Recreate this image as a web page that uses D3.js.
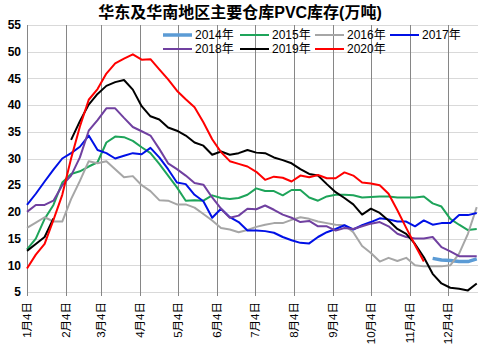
<!DOCTYPE html>
<html>
<head>
<meta charset="utf-8">
<script src="https://cdn.jsdelivr.net/npm/d3@7"></script>
<style>
  html, body { margin: 0; padding: 0; background: #fff; }
  #chart { width: 480px; height: 353px; }
</style>
</head>
<body>
<div id="chart"></div>
<script>
// weekly inventory, one value per week starting 1月4日 (null = no data)
const years = ["2014年", "2015年", "2016年", "2017年", "2018年", "2019年", "2020年"];
const colors = ["#5b9bd5", "#1ea45a", "#a6a6a6", "#0010e6", "#7040a0", "#000000", "#ff0000"];

const s2014 = [null, null, null, null, null, null, null, null, null, null,
  null, null, null, null, null, null, null, null, null, null,
  null, null, null, null, null, null, null, null, null, null,
  null, null, null, null, null, null, null, null, null, null,
  null, null, null, null, null, null, 11.3, 11, 10.9, 10.7, 10.7, 11.2];
const s2015 = [13, 15, 18.7, 21.3, 25.5, 27.1, 27.6, 28.5, 29.3, 33, 34.1, 34, 33.3, 32.1,
  31, 29, 26.8, 24.6, 22.1, 22.2, 22.1, 23.1, 22.6, 22.4, 22.6, 23.2, 24.4,
  23.9, 23.9, 23.1, 24.1, 24.1, 22.7, 22.1, 22.9, 23.2, 23.2, 23.1, 22.7, 22.8,
  22.9, 22.9, 22.7, 22.7, 22.7, 22.9, 21.6, 21, 18.7, 17.6, 16.6, 16.8];
const s2016 = [17, 18, 19, 18.2, 18.2, 22.4, 25.8, 29.5, 29.1, 29.5, 28, 26.5, 26.7, 25,
  23.9, 22.2, 22.1, 21.4, 21.4, 20.8, 19.6, 18.4, 17, 16.7, 16.2, 16.6, 17.2,
  17.6, 17.9, 17.9, 18.5, 19, 18.7, 18.2, 17.9, 17.6, 17.5, 16.2, 13.6, 12.3,
  10.7, 11.4, 10.8, 11.4, 10, 9.8, 9.8, 9.8, 10, 12.2, 15.9, 20.9];
const s2017 = [21.3, 23.4, 25.7, 27.9, 30, 31, 32.2, 34.3, 31.6, 31, 30, 30.5, 31, 30.8,
  32, 30.2, 28, 25.5, 25.2, 23.2, 22, 18.9, 20.6, 19, 18.1, 16.5, 16.5,
  16.4, 16.1, 15.3, 14.7, 14.2, 14.1, 15.3, 16.2, 16.8, 17.5, 16.7, 17.5, 18.1,
  18.8, 18.6, 18.2, 18.2, 17.3, 18.4, 17.6, 17.9, 17.9, 19.4, 19.4, 19.8];
const s2018 = [20, 21.3, 21.3, 22.1, 25, 26.8, 30.2, 35.2, 37.2, 39.4, 39.4, 37.6, 35.9, 35.1,
  34.3, 31.8, 29.1, 28, 26.8, 25.4, 25.1, 22.7, 20.6, 18.9, 19.3, 20.6, 20.5,
  21.2, 20.4, 19.5, 18.9, 18.1, 18.3, 17.3, 17.3, 16.5, 17, 16.8, 17.3, 17.8,
  18.1, 17.3, 15.9, 15.3, 15, 15, 15.3, 13.4, 12.6, 11.7, 11.7, 11.7];
const s2019 = [12.7, 14, 15.3, 18.8, null, 33.5, 37, 40.1, 42.1, 43.6, 44.3, 44.7, 42.9, 39.8,
  37.9, 37.3, 35.8, 35.2, 34.3, 33, 32.4, 30.7, 31.3, 30.7, 31, 31.6, 31.1,
  31, 30.2, 29.7, 29.1, 28, 27.1, 26.8, 25.2, 23.7, 22.6, 21.4, 19.5, 20.6,
  19.8, 18.4, 16.8, 15.9, 14, 11.5, 8.4, 6.6, 5.8, 5.6, 5.3, 6.6];
const s2020 = [9.4, 12, 14, 18.5, 23.2, 30, 36, 41, 43, 45.9, 47.8, 48.7, 49.5, 48.5,
  48.6, 46.7, 44.8, 42.7, 41.1, 39.6, 36.8, 33.6, 31.2, 29.5, 29, 28.5, 27.5,
  26, 26.6, 26.4, 25.7, 26.8, 26.5, 26.9, 26.3, 26.3, 27.4, 26.8, 25.5, 25.3,
  25, 23.4, 20.3, 17, 13.8, 10.7, null, null, null, null, null, null];

const series = [s2014, s2015, s2016, s2017, s2018, s2019, s2020];
const yTicks = [5, 10, 15, 20, 25, 30, 35, 40, 45, 50, 55];
const monthLabels = ["1月4日", "2月4日", "3月4日", "4月4日", "5月4日", "6月4日",
  "7月4日", "8月4日", "9月4日", "10月4日", "11月4日", "12月4日"];

const width = 480, height = 353;
const plot = { left: 27, right: 478, top: 25, bottom: 292 };

const start = new Date(2019, 0, 4);
const weekDate = i => d3.timeDay.offset(start, 7 * i);
const monthTicks = monthLabels.map((m, i) => new Date(2019, i, 4));

const x = d3.scaleTime()
    .domain([start, new Date(2019, 11, 28)])
    .range([plot.left, plot.right]);
const y = d3.scaleLinear()
    .domain([5, 55])
    .range([plot.bottom, plot.top]);

const svg = d3.select("#chart")
    .append("svg")
    .attr("width", width)
    .attr("height", height)
    .attr("font-family", "'Liberation Sans', 'Noto Sans CJK SC', sans-serif");

// horizontal gridlines
svg.append("g")
    .selectAll("line")
    .data(yTicks)
    .join("line")
    .attr("x1", plot.left)
    .attr("x2", plot.right)
    .attr("y1", d => Math.round(y(d)) + 0.5)
    .attr("y2", d => Math.round(y(d)) + 0.5)
    .attr("stroke", "#d9d9d9")
    .attr("stroke-width", 1);

// vertical gridlines at month ticks
svg.append("g")
    .selectAll("line")
    .data(monthTicks)
    .join("line")
    .attr("x1", d => Math.round(x(d)) + 0.5)
    .attr("x2", d => Math.round(x(d)) + 0.5)
    .attr("y1", plot.top)
    .attr("y2", plot.bottom + 4)
    .attr("stroke", "#868686")
    .attr("stroke-width", 1);

// y axis labels
svg.append("g")
    .selectAll("text")
    .data(yTicks)
    .join("text")
    .attr("x", 21)
    .attr("y", d => y(d))
    .attr("dy", "0.35em")
    .attr("text-anchor", "end")
    .attr("font-size", "12px")
    .attr("font-weight", "bold")
    .attr("fill", "#000")
    .text(d => d);

// x axis labels, rotated
svg.append("g")
    .selectAll("text")
    .data(monthTicks)
    .join("text")
    .attr("transform", d => `translate(${x(d)},302) rotate(-90)`)
    .attr("dy", "0.35em")
    .attr("text-anchor", "end")
    .attr("font-size", "11.5px")
    .attr("fill", "#000")
    .text((d, i) => monthLabels[i]);

// lines
const line = d3.line()
    .defined(d => d != null)
    .x((d, i) => x(weekDate(i)))
    .y(d => y(d));

svg.append("g")
    .selectAll("path")
    .data(series)
    .join("path")
    .attr("fill", "none")
    .attr("stroke", (d, i) => colors[i])
    .attr("stroke-width", (d, i) => i === 0 ? 3.5 : 2)
    .attr("stroke-linejoin", "round")
    .attr("d", d => line(d));

// title
svg.append("text")
    .attr("x", 240)
    .attr("y", 18)
    .attr("text-anchor", "middle")
    .attr("font-size", "16px")
    .attr("font-weight", "bold")
    .attr("fill", "#000")
    .text("华东及华南地区主要仓库PVC库存(万吨)");

// legend
const legendPos = [[163, 35], [240, 35], [315, 35], [390, 35], [163, 49], [240, 49], [315, 49]];
const legend = svg.append("g")
    .selectAll("g")
    .data(years)
    .join("g")
    .attr("transform", (d, i) => `translate(${legendPos[i][0]},${legendPos[i][1]})`);

legend.append("line")
    .attr("x1", 0)
    .attr("x2", 29)
    .attr("stroke", (d, i) => colors[i])
    .attr("stroke-width", (d, i) => i === 0 ? 3.5 : 2);

legend.append("text")
    .attr("x", 32)
    .attr("dy", "0.35em")
    .attr("font-size", "12px")
    .attr("fill", "#000")
    .text(d => d);
</script>
</body>
</html>
